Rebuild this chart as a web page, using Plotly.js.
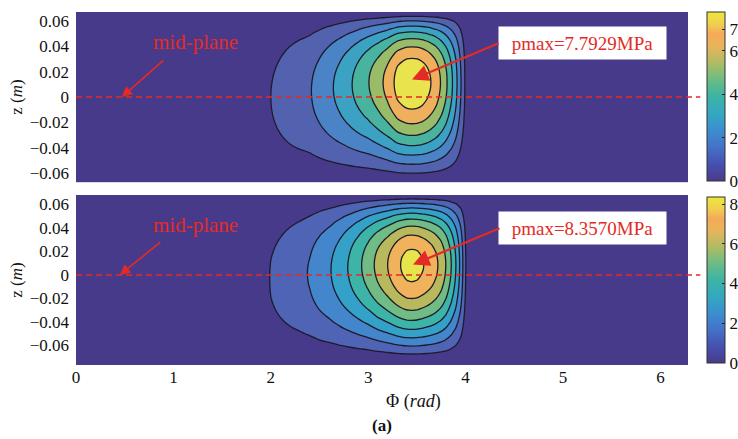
<!DOCTYPE html>
<html><head><meta charset="utf-8">
<script src="https://cdn.plot.ly/plotly-3.0.1.min.js"></script>
<style>html,body{margin:0;padding:0;background:#fff}#chart{width:738px;height:439px}</style>
</head><body><div id="chart"></div>
<script>
// circumferential angle grid (rad)
const phi = [0, 1.5, 1.7, 1.8, 1.9, 2.0, 2.1, 2.2, 2.3, 2.4, 2.5, 2.6, 2.7, 2.8, 2.9, 3.0, 3.1, 3.2, 3.3, 3.35, 3.4, 3.45, 3.5, 3.55, 3.6, 3.65, 3.7, 3.75, 3.8, 3.85, 3.9, 3.95, 4.0, 4.05, 6.2832];
// pressure along the peak line (MPa)
const fTop = [0, 0, 0.1, 0.3, 0.6, 1.0, 1.25, 1.5, 1.72, 1.93, 2.35, 2.8, 3.27, 3.8, 4.37, 4.95, 5.6, 6.35, 7.33, 7.58, 7.75, 7.7929, 7.75, 7.6, 7.33, 6.95, 6.5, 5.9, 5.17, 4.3, 3.3, 2.07, 0.8, 0, 0];
const fBot = [0, 0, 0.1, 0.3, 0.6, 1.05, 1.3, 1.55, 1.78, 2.07, 2.5, 2.9, 3.45, 4.06, 4.75, 5.5, 6.3, 7.0, 7.8, 8.1, 8.31, 8.357, 8.3, 8.1, 7.85, 7.55, 7.15, 6.65, 5.95, 5.05, 4.0, 2.7, 1.05, 0, 0];
// axial skew of the pressure hump at each angle (1/m)
const tiltTop = [0, 0, 0, 0, 0, 0, 0.5, 1.0, 1.5, 2.0, 2.6, 3.2, 3.8, 4.4, 5.0, 5.58, 5.58, 5.58, 5.58, 5.58, 5.58, 5.58, 5.58, 5.58, 5.58, 5.58, 5.58, 5.58, 5.58, 5.58, 5.58, 5.58, 5.58, 5.58, 5.58];
const tiltBot = [0, 0, 0, 0, 0, 0, 0.45, 0.9, 1.35, 1.8, 2.3, 2.8, 3.35, 3.9, 4.45, 4.9, 4.9, 4.9, 4.9, 4.9, 4.9, 4.9, 4.9, 4.9, 4.9, 4.9, 4.9, 4.9, 4.9, 4.9, 4.9, 4.9, 4.9, 4.9, 4.9];
// axial grid (m) and symmetric axial pressure shape
const zTop = [-0.0672, -0.065, -0.06, -0.055, -0.05, -0.045, -0.04, -0.035, -0.03, -0.025, -0.02, -0.015, -0.01, -0.005, 0, 0.005, 0.01, 0.015, 0.02, 0.025, 0.03, 0.035, 0.04, 0.045, 0.05, 0.055, 0.06, 0.065, 0.0672];
const qTop = [0, 0.0644, 0.2028, 0.3301, 0.4464, 0.5516, 0.6457, 0.7287, 0.8007, 0.8616, 0.9114, 0.9502, 0.9779, 0.9945, 1, 0.9945, 0.9779, 0.9502, 0.9114, 0.8616, 0.8007, 0.7287, 0.6457, 0.5516, 0.4464, 0.3301, 0.2028, 0.0644, 0];
const zBot = [-0.0766, -0.074, -0.07, -0.065, -0.06, -0.055, -0.05, -0.045, -0.04, -0.035, -0.03, -0.025, -0.02, -0.015, -0.01, -0.005, 0, 0.005, 0.01, 0.015, 0.02, 0.025, 0.03, 0.035, 0.04, 0.045, 0.05, 0.055, 0.06, 0.065, 0.068];
const qBot = [0, 0, 0.1095, 0.2375, 0.3555, 0.4636, 0.5618, 0.6501, 0.7284, 0.7969, 0.8554, 0.9040, 0.9427, 0.9714, 0.9903, 0.9992, 0.9982, 0.9873, 0.9665, 0.9357, 0.8951, 0.8445, 0.7840, 0.7135, 0.6332, 0.5429, 0.4428, 0.3327, 0.2127, 0.0827, 0];
const pmaxTop = 7.7929, pmaxBot = 8.3570;
const peakTop = [3.45, 0.0138], peakBot = [3.46, 0.0088];
const xTicks = [0, 1, 2, 3, 4, 5, 6];
const cbTicksTop = [0, 2, 4, 6, 7], cbTicksBot = [0, 2, 4, 6, 8];

const bandTop = ['#473a8a', '#5262ae', '#4a84c6', '#3ca2c4', '#48b4a0', '#98bc68', '#eeb05c', '#e9e34e'];
const bandBot = ['#473a8a', '#4f64b4', '#4486cc', '#34a2c8', '#3cb4a8', '#70bc84', '#b8b85c', '#f0b25a', '#e8e44c'];
const barScale = [[0, '#4a3a8a'], [0.1, '#4650b0'], [0.2, '#4472c8'], [0.3, '#3c8ed0'], [0.4, '#34a8c0'], [0.5, '#3cb4a4'], [0.6, '#6cbc84'], [0.7, '#b0bc64'], [0.8, '#e8b45a'], [0.87, '#f5aa58'], [0.93, '#f0d050'], [1, '#ece83a']];

// pressure table: peak-line pressure x axial shape, skewed per angle and renormalised
function field(f, tilt, z, q) {
  const norm = f.map((_, j) => Math.max(...z.map((zz, k) => q[k] * (1 + tilt[j] * zz))));
  return z.map((zv, i) => f.map((fv, j) => fv * q[i] * (1 + tilt[j] * zv) / norm[j]));
}
function bandScale(b) { return b.map((c, i) => [i / (b.length - 1), c]); }

const serif = 'Liberation Serif, Times New Roman, serif';
const red = '#e32b26';

function contourTrace(z, q, f, tilt, bands, nLev, xa, ya) {
  return {
    type: 'contour', x: phi, y: z, z: field(f, tilt, z, q), xaxis: xa, yaxis: ya,
    autocontour: false, contours: {start: 1, end: nLev, size: 1, coloring: 'fill', showlines: true},
    colorscale: bandScale(bands), showscale: false, hoverinfo: 'skip',
    line: {color: '#1d1b2b', width: 1.3, smoothing: 1.1}
  };
}
function barTrace(pmax, ticks, xa, ya, yTop, lenPx) {
  return {
    type: 'heatmap', x: [20, 21], y: [0, 0.01], z: [[0, pmax], [0, pmax]], xaxis: xa, yaxis: ya,
    zmin: 0, zmax: pmax, colorscale: barScale, hoverinfo: 'skip',
    colorbar: {x: 1.031, xanchor: 'left', y: yTop, yanchor: 'top', lenmode: 'pixels', len: lenPx,
      thicknessmode: 'pixels', thickness: 18, xpad: 0, ypad: 0, outlinewidth: 1, outlinecolor: '#333',
      tickvals: ticks, ticks: 'inside', ticklen: 3, tickcolor: '#222',
      tickfont: {family: serif, size: 17, color: '#111'}}
  };
}

const data = [
  contourTrace(zTop, qTop, fTop, tiltTop, bandTop, 7, 'x', 'y'),
  contourTrace(zBot, qBot, fBot, tiltBot, bandBot, 8, 'x2', 'y2'),
  barTrace(pmaxTop, cbTicksTop, 'x', 'y', 1, 169),
  barTrace(pmaxBot, cbTicksBot, 'x2', 'y2', 0.476, 166)
];

const axBase = {showgrid: false, zeroline: false, showline: false, ticks: '', tickfont: {family: serif, size: 17, color: '#111'}};
const arrow = {showarrow: true, arrowhead: 2, arrowcolor: red, text: '', standoff: 0};
const layout = {
  width: 738, height: 439, margin: {l: 76, r: 50, t: 12, b: 74, autoexpand: false},
  paper_bgcolor: '#fff', plot_bgcolor: '#473a8a', showlegend: false,
  font: {family: serif, size: 17, color: '#111'},
  xaxis: Object.assign({}, axBase, {domain: [0, 1], anchor: 'y', range: [0, 6.2832], tickvals: xTicks, showticklabels: false}),
  yaxis: Object.assign({}, axBase, {domain: [0.518, 1], anchor: 'x', range: [-0.0672, 0.0672], dtick: 0.02, tick0: 0, ticklabelstandoff: 6,
    title: {text: 'z (<i>m</i>)', font: {family: serif, size: 17}, standoff: 2}}),
  xaxis2: Object.assign({}, axBase, {domain: [0, 1], anchor: 'y2', range: [0, 6.2832], tickvals: xTicks}),
  yaxis2: Object.assign({}, axBase, {domain: [0, 0.4816], anchor: 'x2', range: [-0.0766, 0.068], dtick: 0.02, tick0: 0, ticklabelstandoff: 6,
    title: {text: 'z (<i>m</i>)', font: {family: serif, size: 17}, standoff: 2}}),
  shapes: [
    {type: 'line', xref: 'paper', yref: 'y', x0: 0, x1: 1.02, y0: 0, y1: 0, line: {color: red, width: 1.5, dash: '6px,4px'}},
    {type: 'line', xref: 'paper', yref: 'y2', x0: 0, x1: 1.02, y0: 0, y1: 0, line: {color: red, width: 1.5, dash: '6px,4px'}}
  ],
  annotations: [
    {xref: 'x', yref: 'y', x: 1.23, y: 0.0438, text: 'mid-plane', showarrow: false, font: {family: serif, size: 21, color: red}},
    Object.assign({}, arrow, {xref: 'x', yref: 'y', x: 0.47, y: 0, ax: 43, ay: -38, arrowwidth: 1.6, arrowsize: 1.3}),
    {xref: 'x2', yref: 'y2', x: 1.23, y: 0.0425, text: 'mid-plane', showarrow: false, font: {family: serif, size: 21, color: red}},
    Object.assign({}, arrow, {xref: 'x2', yref: 'y2', x: 0.45, y: 0, ax: 42, ay: -34, arrowwidth: 1.6, arrowsize: 1.3}),
    {xref: 'x', yref: 'y', x: 5.195, y: 0.043, text: 'pmax=' + pmaxTop.toFixed(4) + 'MPa', showarrow: false, bgcolor: '#fff', width: 165, height: 30,
      font: {family: serif, size: 19, color: red}},
    Object.assign({}, arrow, {xref: 'x', yref: 'y', x: peakTop[0], y: peakTop[1], ax: 88, ay: -37, arrowwidth: 2.2, arrowsize: 1.5}),
    {xref: 'x2', yref: 'y2', x: 5.195, y: 0.040, text: 'pmax=' + pmaxBot.toFixed(4) + 'MPa', showarrow: false, bgcolor: '#fff', width: 165, height: 30,
      font: {family: serif, size: 19, color: red}},
    Object.assign({}, arrow, {xref: 'x2', yref: 'y2', x: peakBot[0], y: peakBot[1], ax: 88, ay: -37, arrowwidth: 2.2, arrowsize: 1.5}),
    {xref: 'paper', yref: 'paper', x: 0.5507, y: -0.102, yanchor: 'middle', text: 'Φ (<i>rad</i>)', showarrow: false, font: {family: serif, size: 18, color: '#111'}},
    {xref: 'paper', yref: 'paper', x: 0.5, y: -0.170, yanchor: 'middle', text: '<b>(a)</b>', showarrow: false, font: {family: serif, size: 17, color: '#111'}}
  ]
};
Plotly.newPlot('chart', data, layout, {staticPlot: true, displayModeBar: false});
</script></body></html>
